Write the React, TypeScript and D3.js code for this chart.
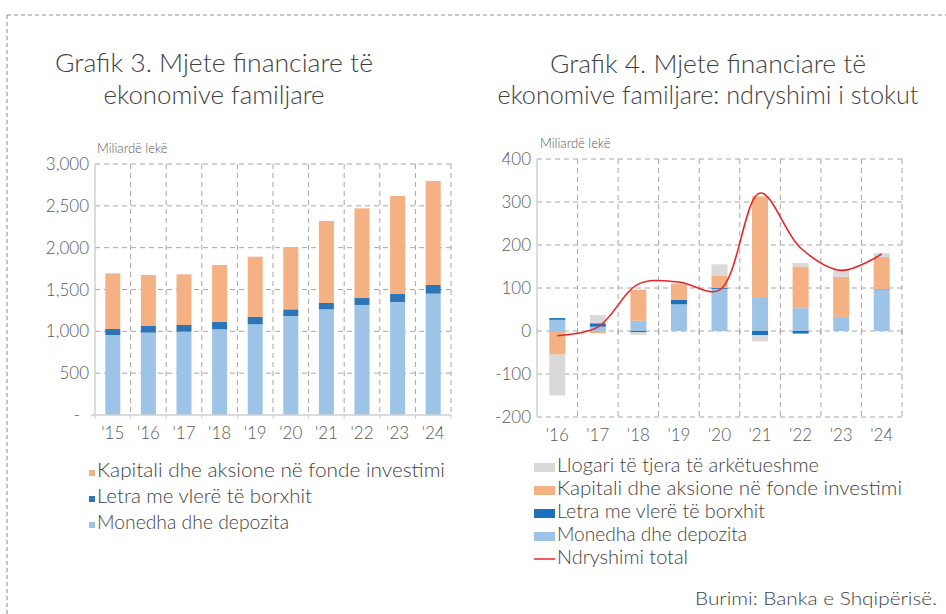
import * as React from "react";
import * as d3 from "d3";

// Grafik 3 - stoku (miliarde leke)
const years1 = ["'15", "'16", "'17", "'18", "'19", "'20", "'21", "'22", "'23", "'24"];
const monedha1 = [956, 984, 996, 1024, 1084, 1183, 1263, 1315, 1351, 1450];
const letra1 = [72, 80, 80, 88, 91, 80, 76, 83, 95, 104];
const kapitali1 = [665, 609, 605, 681, 717, 745, 980, 1072, 1172, 1243];
const ticks1 = [0, 500, 1000, 1500, 2000, 2500, 3000];

// Grafik 4 - ndryshimi i stokut
const years2 = ["'16", "'17", "'18", "'19", "'20", "'21", "'22", "'23", "'24"];
const monedha2 = [26, 10, 24, 62, 98, 79, 53, 33, 97];
const letra2 = [4, 8, -3, 11, 2, -10, -6, 0, 1];
const kapitali2 = [-55, -5, 72, 36, 29, 234, 97, 93, 74];
const llogari2 = [-95, 19, -6, 3, 26, -14, 8, 17, 9];
const total2 = [-11, 9, 109, 114, 95, 321, 193, 141, 179];
const ticks2 = [-200, -100, 0, 100, 200, 300, 400];

const C = {
  orange: "#F4B183",
  dark1: "#2E75B6",
  dark2: "#1F6FBF",
  light: "#9DC3E6",
  gray: "#D9D9D9",
  red: "#E8262A",
  grid: "#A6A6A6",
  axis: "#D0D0D0",
  text: "#595959",
  title: "#3F3F3F",
};
const FONT = "Lato, 'Open Sans', sans-serif";

const keys1 = ["monedha", "letra", "kapitali"];
const keys2 = ["monedha", "letra", "kapitali", "llogari"];
const colors1 = { monedha: C.light, letra: C.dark1, kapitali: C.orange };
const colors2 = { monedha: C.light, letra: C.dark2, kapitali: C.orange, llogari: C.gray };

const legend1 = [
  { label: "Kapitali dhe aksione në fonde investimi", color: C.orange, len: 348 },
  { label: "Letra me vlerë të borxhit", color: C.dark1, len: 215 },
  { label: "Monedha dhe depozita", color: C.light, len: 192 },
];
const legend2 = [
  { label: "Llogari të tjera të arkëtueshme", color: C.gray, len: 262, line: false },
  { label: "Kapitali dhe aksione në fonde investimi", color: C.orange, len: 345, line: false },
  { label: "Letra me vlerë të borxhit", color: C.dark2, len: 208, line: false },
  { label: "Monedha dhe depozita", color: C.light, len: 190, line: false },
  { label: "Ndryshimi total", color: C.red, len: 131, line: true },
];

function Chart1() {
  const left = 95, right = 451, top = 164, bottom = 415;
  const x = d3.scaleBand().domain(years1).range([left, right]);
  const y = d3.scaleLinear().domain([0, 3000]).range([bottom, top]);
  const rows = years1.map((yr, i) => ({ yr, monedha: monedha1[i], letra: letra1[i], kapitali: kapitali1[i] }));
  const series = d3.stack().keys(keys1)(rows as any);
  const bw = 15;
  const bounds = years1.map(yr => x(yr)).concat([right]);
  return (
    <g>
      {ticks1.filter(t => t > 0).map(t => (
        <line key={t} x1={left} x2={right} y1={y(t)} y2={y(t)} stroke={C.grid} strokeDasharray="5,4" strokeWidth={1} />
      ))}
      {bounds.slice(1).map((bx, i) => (
        <line key={i} x1={bx} x2={bx} y1={top} y2={bottom} stroke={C.grid} strokeDasharray="5,4" strokeWidth={1} />
      ))}
      {series.map(s => (
        <g key={s.key} fill={colors1[s.key]}>
          {s.map((d, i) => (
            <rect key={i} x={x(years1[i]) + (x.bandwidth() - bw) / 2} width={bw} y={y(d[1])} height={y(d[0]) - y(d[1])} />
          ))}
        </g>
      ))}
      <line x1={left} x2={left} y1={top} y2={bottom} stroke={C.axis} strokeWidth={1.5} />
      <line x1={left - 4} x2={right} y1={bottom} y2={bottom} stroke={C.axis} strokeWidth={1.5} />
      {bounds.map((bx, i) => (
        <line key={i} x1={bx} x2={bx} y1={bottom} y2={bottom + 4} stroke={C.axis} strokeWidth={1} />
      ))}
      {ticks1.map(t => (
        <text key={t} x={t === 0 ? 80 : 89} y={y(t) + 6} textAnchor="end" fontSize={17} fill={C.text} fontFamily={FONT} fontWeight={300}>
          {t === 0 ? "-" : d3.format(",")(t)}
        </text>
      ))}
      {years1.map(yr => (
        <text key={yr} x={x(yr) + x.bandwidth() / 2} y={439} textAnchor="middle" fontSize={17} fill={C.text} fontFamily={FONT} fontWeight={300}>
          {yr}
        </text>
      ))}
      <text x={97} y={153} fontSize={13} fill={C.text} fontFamily={FONT} fontWeight={300}>Miliardë lekë</text>
      {legend1.map((l, i) => (
        <g key={l.label}>
          <rect x={89} y={470 + i * 26} width={6} height={6} fill={l.color} />
          <text x={97} y={477 + i * 26} fontSize={19} fill={C.title} fontFamily={FONT} fontWeight={300} textLength={l.len} lengthAdjust="spacingAndGlyphs">
            {l.label}
          </text>
        </g>
      ))}
    </g>
  );
}

function Chart2() {
  const left = 537, right = 902, top = 159, bottom = 417;
  const x = d3.scaleBand().domain(years2).range([left, right]);
  const y = d3.scaleLinear().domain([-200, 400]).range([bottom, top]);
  const rows = years2.map((yr, i) => ({
    yr, monedha: monedha2[i], letra: letra2[i], kapitali: kapitali2[i], llogari: llogari2[i],
  }));
  const series = d3.stack().keys(keys2).offset(d3.stackOffsetDiverging)(rows as any);
  const bw = 16;
  const bounds = years2.map(yr => x(yr)).concat([right]);
  const cx = (yr: string) => x(yr) + x.bandwidth() / 2;
  const line = d3.line<number>()
    .x((d, i) => cx(years2[i]))
    .y(d => y(d))
    .curve(d3.curveCatmullRom.alpha(0.5));
  return (
    <g>
      {ticks2.map(t => (
        <line key={t} x1={left} x2={right} y1={y(t)} y2={y(t)} stroke={C.grid} strokeDasharray="5,4" strokeWidth={1} />
      ))}
      {bounds.slice(1).map((bx, i) => (
        <line key={i} x1={bx} x2={bx} y1={top} y2={bottom} stroke={C.grid} strokeDasharray="5,4" strokeWidth={1} />
      ))}
      {series.map(s => (
        <g key={s.key} fill={colors2[s.key]}>
          {s.map((d, i) => (
            <rect key={i} x={x(years2[i]) + (x.bandwidth() - bw) / 2} width={bw} y={y(Math.max(d[0], d[1]))} height={Math.abs(y(d[0]) - y(d[1]))} />
          ))}
        </g>
      ))}
      {bounds.map((bx, i) => (
        <line key={i} x1={bx} x2={bx} y1={y(0) - 3} y2={y(0) + 3} stroke={C.grid} strokeWidth={1} />
      ))}
      <line x1={left} x2={left} y1={top} y2={bottom} stroke={C.axis} strokeWidth={1.5} />
      <path d={line(total2)} fill="none" stroke={C.red} strokeWidth={1.6} />
      {ticks2.map(t => (
        <text key={t} x={531} y={y(t) + 6} textAnchor="end" fontSize={17} fill={C.text} fontFamily={FONT} fontWeight={300}>
          {t}
        </text>
      ))}
      {years2.map(yr => (
        <text key={yr} x={cx(yr)} y={441} textAnchor="middle" fontSize={17} fill={C.text} fontFamily={FONT} fontWeight={300}>
          {yr}
        </text>
      ))}
      <text x={540} y={148} fontSize={13} fill={C.text} fontFamily={FONT} fontWeight={300}>Miliardë lekë</text>
      {legend2.map((l, i) => (
        <g key={l.label}>
          {l.line ? (
            <line x1={534} x2={555} y1={559} y2={559} stroke={l.color} strokeWidth={1.5} />
          ) : (
            <rect x={534} y={463 + i * 23} width={21} height={9} fill={l.color} />
          )}
          <text x={557} y={472 + i * 23} fontSize={19} fill={C.title} fontFamily={FONT} fontWeight={300} textLength={l.len} lengthAdjust="spacingAndGlyphs">
            {l.label}
          </text>
        </g>
      ))}
    </g>
  );
}

export default function App() {
  return (
    <svg width={946} height={614} style={{ position: "absolute", left: 0, top: 0, background: "#fff" }}>
      <line x1={7} x2={946} y1={15} y2={15} stroke="#8C8C8C" strokeDasharray="4,3" strokeWidth={1} />
      <line x1={7} x2={7} y1={15} y2={614} stroke="#8C8C8C" strokeDasharray="4,3" strokeWidth={1} />
      <g fontFamily={FONT} fontWeight={300} fill={C.title} fontSize={25} textAnchor="middle">
        <text x={214} y={72} textLength={318} lengthAdjust="spacingAndGlyphs">Grafik 3. Mjete financiare të</text>
        <text x={214} y={104} textLength={221} lengthAdjust="spacingAndGlyphs">ekonomive familjare</text>
        <text x={708} y={73} textLength={316} lengthAdjust="spacingAndGlyphs">Grafik 4. Mjete financiare të</text>
        <text x={708} y={104} textLength={421} lengthAdjust="spacingAndGlyphs">ekonomive familjare: ndryshimi i stokut</text>
      </g>
      <Chart1 />
      <Chart2 />
      <text x={937} y={605} textAnchor="end" fontSize={18} fill={C.title} fontFamily={FONT} fontWeight={300} textLength={242} lengthAdjust="spacingAndGlyphs">
        Burimi: Banka e Shqipërisë.
      </text>
    </svg>
  );
}
